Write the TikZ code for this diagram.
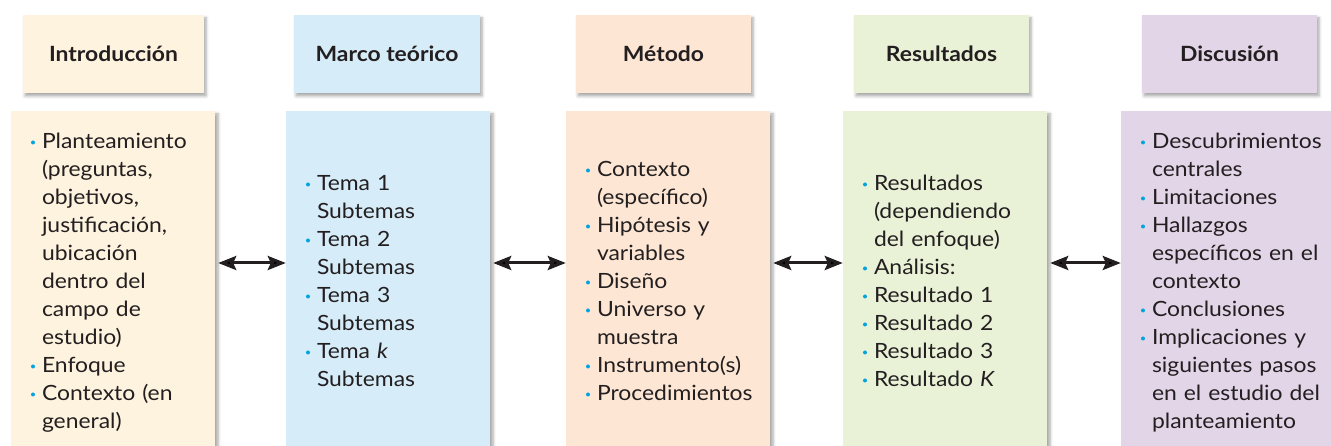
\documentclass[tikz,border=0pt]{standalone}
\usepackage{fontspec}
\setmainfont{Lato}[FakeStretch=1.09]
\usetikzlibrary{arrows.meta,shadows.blur}

\definecolor{inktext}{HTML}{231F20}
\definecolor{dotblue}{HTML}{00A3E0}
\definecolor{introfill}{HTML}{FEF3DE}
\definecolor{marcofill}{HTML}{D6ECF9}
\definecolor{metodofill}{HTML}{FDE7D4}
\definecolor{resulfill}{HTML}{E9F2D6}
\definecolor{discufill}{HTML}{E2D5E8}

% small blue bullet
\newcommand{\dotb}{\makebox[11pt][l]{\tikz[baseline=-5.6pt]\fill[dotblue] (2pt,0) circle (2pt);}}

\begin{document}
\begin{tikzpicture}[x=1pt,y=1pt,
    hbox/.style={minimum height=78pt, inner sep=0pt, text=inktext,
        font=\fontsize{21}{26}\selectfont\bfseries,
        blur shadow={shadow xshift=2pt, shadow yshift=-3pt, shadow blur radius=3pt, shadow opacity=35}},
    cbox/.style={minimum height=343pt, text width=164pt, inner xsep=20pt, inner ysep=0pt,
        align=left, text=inktext, font=\fontsize{21}{28}\selectfont,
        blur shadow={shadow xshift=3pt, shadow yshift=-3pt, shadow blur radius=3pt, shadow opacity=35}},
    conn/.style={{Stealth[length=18pt,width=14pt,inset=3pt]}-{Stealth[length=18pt,width=14pt,inset=3pt]},
        line width=3pt, draw=inktext}]
    \useasboundingbox (0,0) rectangle (1331,446);

    % headers
    \node[hbox, fill=introfill, minimum width=181pt] (introH) at (113.5,392) {Introducción};
    \node[hbox, fill=marcofill, minimum width=186pt] (marcoH) at (387,392) {Marco teórico};
    \node[hbox, fill=metodofill, minimum width=175pt] (metodoH) at (663.5,392) {Método};
    \node[hbox, fill=resulfill, minimum width=175pt] (resulH) at (941.5,392) {Resultados};
    \node[hbox, fill=discufill, minimum width=175pt] (discuH) at (1229.5,392) {Discusión};

    % contents
    \node[cbox, fill=introfill] (intro) at (113,163.5) {%
        \begin{tabular}{@{}l@{}l@{}}
        \dotb & Planteamiento\\ & (preguntas,\\ & objetivos,\\ & justificación,\\ & ubicación\\
              & dentro del\\ & campo de\\ & estudio)\\
        \dotb & Enfoque\\
        \dotb & Contexto (en\\ & general)
        \end{tabular}};
    \node[cbox, fill=marcofill] (marco) at (388,163.5) {%
        \begin{tabular}{@{}l@{}l@{}}
        \dotb & Tema 1\\ & Subtemas\\
        \dotb & Tema 2\\ & Subtemas\\
        \dotb & Tema 3\\ & Subtemas\\
        \dotb & Tema \textit{k}\\ & Subtemas
        \end{tabular}};
    \node[cbox, fill=metodofill] (metodo) at (668,163.5) {%
        \begin{tabular}{@{}l@{}l@{}}
        \dotb & Contexto\\ & (específico)\\
        \dotb & Hipótesis y\\ & variables\\
        \dotb & Diseño\\
        \dotb & Universo y\\ & muestra\\
        \dotb & Instrumento(s)\\
        \dotb & Procedimientos
        \end{tabular}};
    \node[cbox, fill=resulfill] (resul) at (945,163.5) {%
        \begin{tabular}{@{}l@{}l@{}}
        \dotb & Resultados\\ & (dependiendo\\ & del enfoque)\\
        \dotb & Análisis:\\
        \dotb & Resultado 1\\
        \dotb & Resultado 2\\
        \dotb & Resultado 3\\
        \dotb & Resultado \textit{K}
        \end{tabular}};
    \node[cbox, fill=discufill, text width=179pt] (discu) at (1230.5,163.5) {%
        \begin{tabular}{@{}l@{}l@{}}
        \dotb & Descubrimientos\\ & centrales\\
        \dotb & Limitaciones\\
        \dotb & Hallazgos\\ & específicos en el\\ & contexto\\
        \dotb & Conclusiones\\
        \dotb & Implicaciones y\\ & siguientes pasos\\ & en el estudio del\\ & planteamiento
        \end{tabular}};

    % two-way arrows between contents
    \foreach \a/\b in {intro/marco, marco/metodo, metodo/resul, resul/discu}
        \draw[conn] ([xshift=3pt,yshift=19.5pt]\a.east) -- ([yshift=19.5pt]\b.west);
\end{tikzpicture}
\end{document}
